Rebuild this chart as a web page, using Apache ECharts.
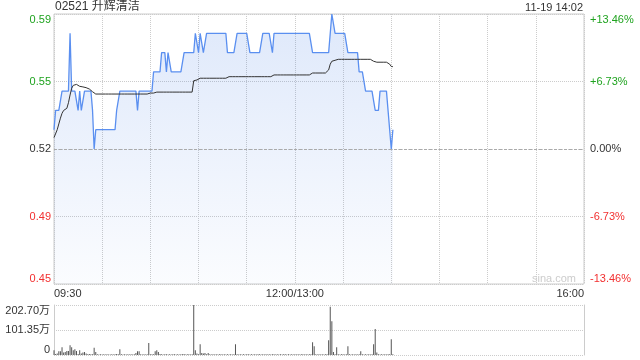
<!DOCTYPE html>
<html><head><meta charset="utf-8">
<script src="https://cdn.jsdelivr.net/npm/echarts@6/dist/echarts.min.js"></script>
<style>html,body{margin:0;padding:0;background:#fff}#c{width:640px;height:360px}</style>
</head><body><div id="c"></div>
<script>
const titleText = '02521 升辉清洁';
const stampText = '11-19 14:02';
const preClose = 0.52;
const priceLabels = ['0.45', '0.49', '0.52', '0.55', '0.59'];
const pctLabels = ['-13.46%', '-6.73%', '0.00%', '+6.73%', '+13.46%'];
const volLabels = ['0', '101.35万', '202.70万'];
const xTickLabels = ['09:30', '12:00/13:00', '16:00'];

const prices = [
0.53,0.54,0.54,0.54,0.54,0.55,0.55,0.55,0.55,0.55,
0.58,0.55,0.55,0.55,0.55,0.54,0.55,0.54,0.54,0.55,
0.55,0.55,0.55,0.55,0.54,0.52,0.53,0.53,0.53,0.53,
0.53,0.53,0.53,0.53,0.53,0.53,0.53,0.53,0.53,0.54,
0.54,0.55,0.55,0.55,0.55,0.55,0.55,0.55,0.55,0.55,
0.55,0.55,0.54,0.55,0.55,0.55,0.55,0.55,0.55,0.55,
0.55,0.55,0.56,0.56,0.56,0.56,0.56,0.57,0.57,0.57,
0.56,0.57,0.57,0.56,0.56,0.56,0.56,0.56,0.56,0.56,
0.56,0.57,0.57,0.57,0.57,0.57,0.57,0.57,0.58,0.58,
0.57,0.58,0.58,0.57,0.57,0.58,0.58,0.58,0.58,0.58,
0.58,0.58,0.58,0.58,0.58,0.58,0.58,0.58,0.57,0.57,
0.57,0.57,0.57,0.57,0.58,0.58,0.58,0.58,0.58,0.58,
0.58,0.58,0.57,0.57,0.57,0.57,0.57,0.57,0.57,0.57,
0.58,0.58,0.58,0.58,0.58,0.58,0.57,0.58,0.58,0.58,
0.58,0.58,0.58,0.58,0.58,0.58,0.58,0.58,0.58,0.58,
0.58,0.58,0.58,0.58,0.58,0.58,0.58,0.58,0.58,0.58,
0.58,0.57,0.57,0.57,0.57,0.57,0.57,0.57,0.57,0.57,
0.57,0.57,0.58,0.59,0.59,0.58,0.58,0.58,0.58,0.58,
0.58,0.58,0.58,0.57,0.57,0.57,0.57,0.57,0.57,0.57,
0.56,0.56,0.56,0.56,0.55,0.55,0.55,0.55,0.55,0.55,
0.54,0.54,0.54,0.55,0.55,0.55,0.55,0.55,0.55,0.53,
0.52,0.53
];

const avgPrices = [
0.5259,0.5265,0.5300,0.5330,0.5360,0.5385,0.5400,0.5408,0.5411,0.5440,
0.5480,0.5515,0.5530,0.5537,0.5535,0.5528,0.5525,0.5523,0.5522,0.5520,
0.5518,0.5515,0.5511,0.5505,0.5497,0.5487,0.5485,0.5485,0.5485,0.5485,
0.5485,0.5485,0.5485,0.5485,0.5485,0.5485,0.5485,0.5485,0.5485,0.5485,
0.5485,0.5485,0.5485,0.5485,0.5485,0.5485,0.5485,0.5485,0.5485,0.5485,
0.5485,0.5485,0.5485,0.5485,0.5485,0.5485,0.5485,0.5485,0.5485,0.5490,
0.5490,0.5490,0.5490,0.5490,0.5495,0.5495,0.5495,0.5495,0.5495,0.5495,
0.5495,0.5495,0.5495,0.5495,0.5495,0.5495,0.5495,0.5495,0.5495,0.5495,
0.5495,0.5495,0.5495,0.5495,0.5495,0.5495,0.5495,0.5554,0.5558,0.5558,
0.5563,0.5567,0.5567,0.5567,0.5567,0.5567,0.5567,0.5567,0.5567,0.5567,
0.5567,0.5567,0.5567,0.5567,0.5567,0.5567,0.5567,0.5567,0.5575,0.5575,
0.5575,0.5575,0.5575,0.5575,0.5575,0.5575,0.5575,0.5575,0.5575,0.5575,
0.5575,0.5575,0.5575,0.5575,0.5575,0.5575,0.5575,0.5575,0.5575,0.5575,
0.5575,0.5575,0.5575,0.5575,0.5575,0.5575,0.5584,0.5584,0.5584,0.5584,
0.5584,0.5584,0.5584,0.5584,0.5584,0.5584,0.5584,0.5584,0.5584,0.5584,
0.5584,0.5584,0.5584,0.5584,0.5584,0.5584,0.5584,0.5584,0.5584,0.5584,
0.5584,0.5594,0.5594,0.5594,0.5594,0.5594,0.5594,0.5594,0.5594,0.5594,
0.5594,0.5610,0.5640,0.5655,0.5660,0.5660,0.5660,0.5665,0.5665,0.5665,
0.5665,0.5665,0.5665,0.5665,0.5665,0.5665,0.5665,0.5665,0.5665,0.5665,
0.5665,0.5665,0.5665,0.5665,0.5665,0.5665,0.5665,0.5665,0.5660,0.5655,
0.5650,0.5650,0.5650,0.5650,0.5650,0.5650,0.5650,0.5650,0.5650,0.5640,
0.5628,0.5627
];

// volume in 万 shares
const volumes = [
19,4,6,15,15,31,10,12,16,16,
40,31,19,23,16,4,19,6,10,12,
6,3,4,3,3,29,12,3,2,3,
2,3,2,3,2,2,3,2,3,4,
3,23,3,2,3,2,3,2,3,2,
3,8,15,15,3,2,3,2,3,49,
3,3,3,15,19,12,4,3,2,3,
3,2,3,2,3,3,2,3,2,3,
3,4,2,3,3,2,3,202.7,19,6,
3,44,8,6,8,3,8,3,2,3,
2,3,2,3,3,2,3,2,3,2,
3,2,3,44,3,2,3,2,3,2,
3,3,2,3,2,3,2,3,3,2,
3,2,3,2,3,2,3,3,2,3,
2,3,2,3,3,2,3,2,3,2,
3,2,3,2,3,3,2,3,2,3,
3,52,35,3,2,3,2,3,2,3,
3,60,196,137,12,3,31,3,2,3,
3,2,3,35,3,2,3,2,3,2,
3,15,3,2,3,2,3,2,3,44,
105,10,3,2,3,2,3,2,3,3,
64,3
];

// trading minutes 09:30-12:00, 13:01-16:00
const times = [];
function pad(n) { return (n < 10 ? '0' : '') + n; }
for (let m = 9 * 60 + 30; m <= 12 * 60; m++) times.push(pad(Math.floor(m / 60)) + ':' + pad(m % 60));
for (let m = 13 * 60 + 1; m <= 16 * 60; m++) times.push(pad(Math.floor(m / 60)) + ':' + pad(m % 60));
const labelTimes = ['09:30', '12:00', '16:00'];

const FONT = '"Liberation Sans", Arial, "Noto Sans CJK SC", sans-serif';
const GREEN = '#1fa31f';
const RED = '#f23030';
const GRID = '#cccccc';
const pctStep = 6.73;

function pctIndex(v) { return Math.round(v / pctStep) + 2; }
function signColor(v) { return v > 0.001 ? GREEN : (v < -0.001 ? RED : '#333'); }

const chart = echarts.init(document.getElementById('c'), null, { renderer: 'canvas' });
chart.setOption({
  animation: false,
  backgroundColor: '#fff',
  textStyle: { fontFamily: FONT },
  grid: [
    { left: 54, top: 14, width: 530, height: 270, show: true, borderColor: GRID, borderWidth: 1, backgroundColor: 'transparent' },
    { left: 54, top: 305, width: 530, height: 50 }
  ],
  xAxis: [
    {
      type: 'category', gridIndex: 0, data: times, boundaryGap: false,
      axisLine: { show: false }, axisTick: { show: false },
      splitLine: { show: true, interval: 29, lineStyle: { color: GRID, type: [1, 1], width: 1 } },
      axisLabel: {
        interval: function (i, v) { return labelTimes.indexOf(v) >= 0; },
        formatter: function (v) { return xTickLabels[labelTimes.indexOf(v)]; },
        color: '#333', fontSize: 11, fontFamily: FONT, margin: 4,
        alignMinLabel: 'left', alignMaxLabel: 'right', showMinLabel: true, showMaxLabel: true
      }
    },
    {
      type: 'category', gridIndex: 1, data: times, boundaryGap: false,
      axisLine: { show: false }, axisTick: { show: false }, axisLabel: { show: false }, splitLine: { show: false }
    }
  ],
  yAxis: [
    {
      type: 'value', gridIndex: 0, position: 'left', min: -13.46, max: 13.46, interval: pctStep,
      axisLine: { show: false }, axisTick: { show: false },
      splitLine: { show: true, lineStyle: { color: GRID, type: [1, 1], width: 1 } },
      axisLabel: {
        formatter: function (v) { return priceLabels[pctIndex(v)]; },
        color: function (v) { return signColor(v); },
        fontSize: 11, fontFamily: FONT, margin: 3,
        verticalAlignMinLabel: 'bottom', verticalAlignMaxLabel: 'top'
      }
    },
    {
      type: 'value', gridIndex: 0, position: 'right', min: -13.46, max: 13.46, interval: pctStep,
      axisLine: { show: false }, axisTick: { show: false }, splitLine: { show: false },
      axisLabel: {
        formatter: function (v) { return pctLabels[pctIndex(v)]; },
        color: function (v) { return signColor(v); },
        fontSize: 11, fontFamily: FONT, margin: 6,
        verticalAlignMinLabel: 'bottom', verticalAlignMaxLabel: 'top'
      }
    },
    {
      type: 'value', gridIndex: 0, show: false, min: 0.45, max: 0.59,
      splitLine: { show: false }
    },
    {
      type: 'value', gridIndex: 1, position: 'left', min: 0, max: 202.7, interval: 101.35,
      axisLine: { show: true, lineStyle: { color: GRID, width: 1 } }, axisTick: { show: false },
      splitLine: { show: true, lineStyle: { color: GRID, type: [1, 1], width: 1 } },
      axisLabel: {
        formatter: function (v) { return volLabels[Math.round(v / 101.35)]; },
        color: '#333', fontSize: 11, fontFamily: FONT, margin: 4,
        verticalAlignMinLabel: 'bottom', verticalAlignMaxLabel: 'top'
      }
    },
    {
      type: 'value', gridIndex: 1, position: 'right', min: 0, max: 202.7, interval: 101.35,
      axisLine: { show: true, lineStyle: { color: GRID, width: 1 } }, axisTick: { show: false },
      axisLabel: { show: false }, splitLine: { show: false }
    }
  ],
  series: [
    {
      type: 'line', xAxisIndex: 0, yAxisIndex: 2, data: prices, symbol: 'none',
      lineStyle: { color: '#5a8ff0', width: 1.3 },
      areaStyle: {
        color: new echarts.graphic.LinearGradient(0, 0, 0, 1, [
          { offset: 0, color: 'rgba(60,120,230,0.24)' },
          { offset: 1, color: 'rgba(60,120,230,0.03)' }
        ])
      },
      markLine: {
        silent: true, symbol: ['none', 'none'], label: { show: false },
        lineStyle: { color: '#aaaaaa', type: [3, 2], width: 1 },
        data: [{ yAxis: preClose }]
      },
      z: 3
    },
    {
      type: 'line', xAxisIndex: 0, yAxisIndex: 2, data: avgPrices, symbol: 'none',
      lineStyle: { color: '#333333', width: 1 }, z: 4
    },
    {
      type: 'bar', xAxisIndex: 1, yAxisIndex: 3, data: volumes, barWidth: 1,
      itemStyle: { color: '#555555' }
    }
  ],
  graphic: [
    { type: 'text', left: 55, top: 1, style: { text: titleText, font: '12px ' + FONT, fill: '#333' } },
    { type: 'text', right: 57, top: 2, style: { text: stampText, font: '11px ' + FONT, fill: '#333' } },
    { type: 'text', left: 532, top: 273, style: { text: 'sina.com', font: '11px ' + FONT, fill: '#cccccc' } }
  ]
});
</script>
</body></html>
